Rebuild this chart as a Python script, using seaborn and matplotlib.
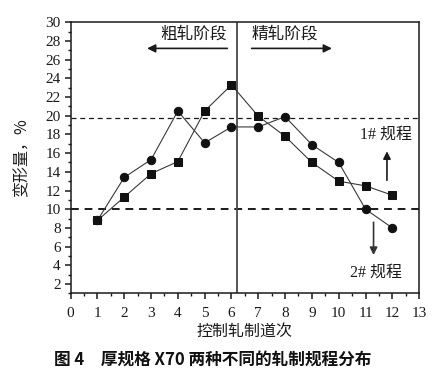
import matplotlib
matplotlib.use("Agg")
import matplotlib.pyplot as plt
import matplotlib.ticker as mticker
import pandas as pd
import seaborn as sns

# ── data ──────────────────────────────────────────────────────────────────────
passes = [1, 2, 3, 4, 5, 6, 7, 8, 9, 10, 11, 12]
plan_1 = [8.8, 11.3, 13.8, 15.1, 20.5, 23.3, 19.95, 17.8, 15.0, 13.0, 12.5, 11.5]   # squares
plan_2 = [8.8, 13.4, 15.3, 20.5, 17.1, 18.8, 18.8, 19.9, 16.9, 15.0, 10.0, 8.0]     # circles
upper_limit = 19.8
lower_limit = 10.0
stage_split = 6.2

CJK = ["Noto Sans CJK SC", "DejaVu Sans"]
NUM = ["Liberation Serif", "DejaVu Serif"]
MIX = ["Liberation Serif", "Noto Sans CJK SC"]
INK = "#1a1a1a"

sns.set_theme(style="ticks")
plt.rcParams.update({
    "font.family": NUM,
    "axes.edgecolor": INK,
    "axes.linewidth": 1.1,
    "xtick.color": INK,
    "ytick.color": INK,
})

df = pd.DataFrame({"pass": passes, "p1": plan_1, "p2": plan_2})

fig = plt.figure(figsize=(4.44, 3.83), dpi=100)
ax = fig.add_axes([0.159, 0.234, 0.785, 0.708])

sns.lineplot(data=df, x="pass", y="p1", marker="s", markersize=6, color="#3a3a3a",
             linewidth=0.8, markerfacecolor="#111111", markeredgecolor="#111111", ax=ax)
sns.lineplot(data=df, x="pass", y="p2", marker="o", markersize=6, color="#3a3a3a",
             linewidth=0.8, markerfacecolor="#111111", markeredgecolor="#111111", ax=ax)

ax.axhline(upper_limit, color=INK, lw=0.9, ls=(0, (4, 3)), zorder=1)
ax.axhline(lower_limit, color=INK, lw=1.4, ls=(0, (4, 3)), zorder=1)
ax.axvline(stage_split, color="#4a4a4a", lw=1.3, zorder=1)

ax.set_xlim(0, 13)
ax.set_ylim(1, 30)
ax.xaxis.set_major_locator(mticker.MultipleLocator(1))
ax.xaxis.set_minor_locator(mticker.MultipleLocator(0.5))
ax.yaxis.set_major_locator(mticker.MultipleLocator(2))
ax.yaxis.set_minor_locator(mticker.MultipleLocator(1))
ax.tick_params(which="major", direction="out", length=4, width=1.1, labelsize=11, pad=3)
ax.tick_params(which="minor", direction="out", length=2, width=1.0)
ax.tick_params(axis="x", which="major", pad=6)
for t in ax.get_xticklabels() + ax.get_yticklabels():
    t.set_fontfamily(NUM)

ax.set_xlabel("控制轧制道次", family=CJK, fontsize=11.5, color=INK, labelpad=2)
ax.set_ylabel("变形量，%", family=CJK, fontsize=11.5, color=INK, labelpad=11)

# stage annotations
ax.text(4.6, 28.7, "粗轧阶段", family=CJK, fontsize=12, ha="center", va="center", color=INK)
ax.annotate("", xy=(2.75, 27.2), xytext=(5.95, 27.2),
            arrowprops=dict(arrowstyle="-|>", color=INK, lw=1.2, mutation_scale=12))
ax.text(8.0, 28.7, "精轧阶段", family=CJK, fontsize=12, ha="center", va="center", color=INK)
ax.annotate("", xy=(9.85, 27.2), xytext=(6.65, 27.2),
            arrowprops=dict(arrowstyle="-|>", color=INK, lw=1.2, mutation_scale=12))

# plan labels
ax.text(11.75, 18.0, "1# 规程", family=MIX, fontsize=11.5, ha="center", va="center", color=INK)
ax.annotate("", xy=(11.8, 16.5), xytext=(11.8, 12.8),
            arrowprops=dict(arrowstyle="-|>", color=INK, lw=1.2, mutation_scale=11))
ax.annotate("", xy=(11.3, 4.8), xytext=(11.3, 8.9),
            arrowprops=dict(arrowstyle="-|>", color="#333333", lw=1.2, mutation_scale=11))
ax.text(11.4, 3.2, "2# 规程", family=MIX, fontsize=11.5, ha="center", va="center", color=INK)

fig.text(0.478, 0.062, "图 4　厚规格 X70 两种不同的轧制规程分布", family=CJK,
         fontsize=12, fontweight="bold", ha="center", va="center", color="#111111")

fig.savefig("out.png", dpi=100)
